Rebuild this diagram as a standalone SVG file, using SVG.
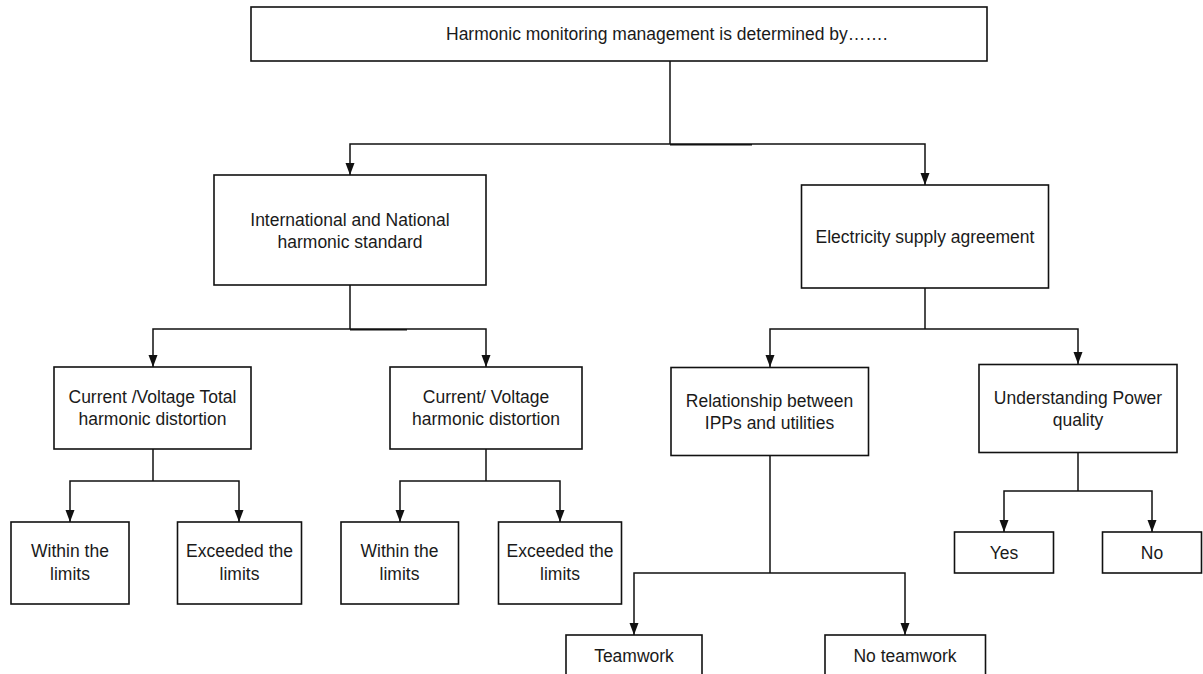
<svg xmlns="http://www.w3.org/2000/svg" width="1203" height="674" viewBox="0 0 1203 674">
  <defs>
    <marker id="arrow" markerUnits="userSpaceOnUse" markerWidth="12" markerHeight="10" refX="12" refY="5" orient="auto">
      <path d="M0,0.5 L12,5 L0,9.5 z" fill="#111"/>
    </marker>
    <style>
      .box { fill: #fff; stroke: #111; stroke-width: 1.6; }
      .wire { fill: none; stroke: #111; stroke-width: 1.5; }
      .lbl { font-family: "Liberation Sans", Arial, sans-serif; font-size: 17.5px; fill: #1a1a1a; text-anchor: middle; }
    </style>
  </defs>
  <rect width="1203" height="674" fill="#fff"/>

  <!-- connectors -->
  <g id="connectors">
    <!-- root to first level -->
    <path class="wire" d="M670,61 V144"/>
    <path class="wire" d="M670,144 H350 V175" marker-end="url(#arrow)"/>
    <path class="wire" d="M670,144 H925 V185" marker-end="url(#arrow)"/>
    <path class="wire" d="M670,144.7 H752"/>

    <!-- standards branch -->
    <path class="wire" d="M350,285 V329"/>
    <path class="wire" d="M350,329 H153 V367" marker-end="url(#arrow)"/>
    <path class="wire" d="M350,329 H486 V367" marker-end="url(#arrow)"/>
    <path class="wire" d="M350,329.7 H407"/>

    <!-- THD branch -->
    <path class="wire" d="M153,449 V481"/>
    <path class="wire" d="M153,481 H70 V522" marker-end="url(#arrow)"/>
    <path class="wire" d="M153,481 H239 V522" marker-end="url(#arrow)"/>

    <!-- harmonic distortion branch -->
    <path class="wire" d="M486,449 V481"/>
    <path class="wire" d="M486,481 H400 V522" marker-end="url(#arrow)"/>
    <path class="wire" d="M486,481 H560 V522" marker-end="url(#arrow)"/>

    <!-- supply agreement branch -->
    <path class="wire" d="M925,288 V329"/>
    <path class="wire" d="M925,329 H770 V367" marker-end="url(#arrow)"/>
    <path class="wire" d="M925,329 H1078 V364" marker-end="url(#arrow)"/>

    <!-- relationship branch -->
    <path class="wire" d="M770,456 V573"/>
    <path class="wire" d="M770,573 H634 V635" marker-end="url(#arrow)"/>
    <path class="wire" d="M770,573 H905 V635" marker-end="url(#arrow)"/>

    <!-- power quality branch -->
    <path class="wire" d="M1078,453 V491"/>
    <path class="wire" d="M1078,491 H1004 V532" marker-end="url(#arrow)"/>
    <path class="wire" d="M1078,491 H1152 V532" marker-end="url(#arrow)"/>
  </g>

  <g id="root">
    <rect class="box" x="251" y="7" width="736" height="54"/>
    <text class="lbl" x="446" y="40" style="text-anchor:start">Harmonic monitoring management is determined by…….</text>
  </g>

  <g id="standards">
    <rect class="box" x="214" y="175" width="272" height="110"/>
    <text class="lbl" x="350" y="226">International and National</text>
    <text class="lbl" x="350" y="247.5">harmonic standard</text>
  </g>

  <g id="supply-agreement">
    <rect class="box" x="801.5" y="185" width="247" height="103"/>
    <text class="lbl" x="925" y="243">Electricity supply agreement</text>
  </g>

  <g id="thd">
    <rect class="box" x="54" y="367" width="197" height="82"/>
    <text class="lbl" x="152.5" y="403">Current /Voltage Total</text>
    <text class="lbl" x="152.5" y="425">harmonic distortion</text>
  </g>

  <g id="hd">
    <rect class="box" x="390" y="367" width="192" height="82"/>
    <text class="lbl" x="486" y="403">Current/ Voltage</text>
    <text class="lbl" x="486" y="425">harmonic distortion</text>
  </g>

  <g id="thd-within">
    <rect class="box" x="11" y="522" width="118" height="82"/>
    <text class="lbl" x="70" y="557">Within the</text>
    <text class="lbl" x="70" y="580">limits</text>
  </g>

  <g id="thd-exceeded">
    <rect class="box" x="177.5" y="522" width="124" height="82"/>
    <text class="lbl" x="239.5" y="557">Exceeded the</text>
    <text class="lbl" x="239.5" y="580">limits</text>
  </g>

  <g id="hd-within">
    <rect class="box" x="341" y="522" width="117.5" height="82"/>
    <text class="lbl" x="399.5" y="557">Within the</text>
    <text class="lbl" x="399.5" y="580">limits</text>
  </g>

  <g id="hd-exceeded">
    <rect class="box" x="498.5" y="522" width="123" height="82"/>
    <text class="lbl" x="560" y="557">Exceeded the</text>
    <text class="lbl" x="560" y="580">limits</text>
  </g>

  <g id="relationship">
    <rect class="box" x="671" y="367.5" width="197.5" height="88"/>
    <text class="lbl" x="769.5" y="407">Relationship between</text>
    <text class="lbl" x="769.5" y="429">IPPs and utilities</text>
  </g>

  <g id="power-quality">
    <rect class="box" x="979" y="364.5" width="198" height="88"/>
    <text class="lbl" x="1078" y="404">Understanding Power</text>
    <text class="lbl" x="1078" y="426">quality</text>
  </g>

  <g id="yes">
    <rect class="box" x="954.5" y="532" width="99" height="41"/>
    <text class="lbl" x="1004" y="559">Yes</text>
  </g>

  <g id="no">
    <rect class="box" x="1102.5" y="532" width="99" height="41"/>
    <text class="lbl" x="1152" y="559">No</text>
  </g>

  <g id="teamwork">
    <rect class="box" x="566" y="635" width="136" height="60"/>
    <text class="lbl" x="634" y="662">Teamwork</text>
  </g>

  <g id="no-teamwork">
    <rect class="box" x="825" y="635" width="160.5" height="60"/>
    <text class="lbl" x="905" y="662">No teamwork</text>
  </g>
</svg>
